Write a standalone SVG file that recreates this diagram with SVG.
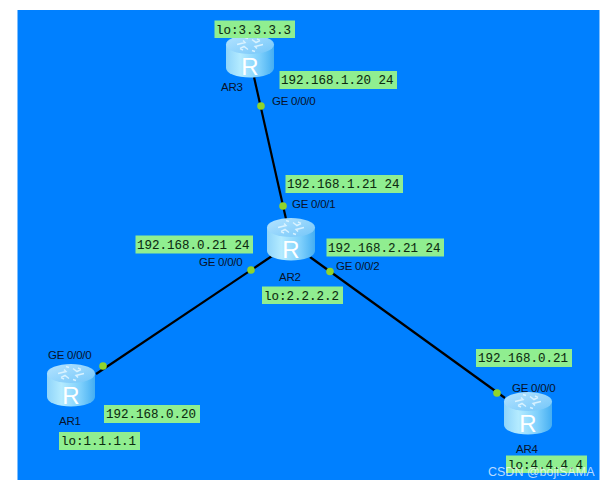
<svg xmlns="http://www.w3.org/2000/svg" width="613" height="490" viewBox="0 0 613 490">
<style>
.lb{fill:#90ee90}
.ip{font:12.5px "Liberation Mono",monospace;fill:#0c2a10;stroke:#0c2a10;stroke-width:.08}
.t{font:11.500px "Liberation Sans",Arial,sans-serif;fill:#08122a;letter-spacing:-.25px}
.c{stroke:#000;stroke-width:2.200;fill:none}
.d{fill:#8fd42c}
.r{font:24px "Liberation Sans",Arial,sans-serif;fill:#fff;text-anchor:middle}
.a{fill:none;stroke:#e4f7ff;stroke-width:1.500;stroke-opacity:.85}
</style>
<defs>
<linearGradient id="body" x1="0" x2="1" y1="0" y2="0">
<stop offset="0" stop-color="#8fd4fa"/><stop offset=".3" stop-color="#b4ebff"/><stop offset=".7" stop-color="#7fd0fc"/><stop offset="1" stop-color="#45aef2"/>
</linearGradient>
<linearGradient id="top" x1="0" x2="1" y1="0" y2="1">
<stop offset="0" stop-color="#b5e4ff"/><stop offset="1" stop-color="#74c6f9"/>
</linearGradient>
<g id="router">
<path d="M-24 9.500V33A24 9.500 0 0 0 24 33V9.500Z" fill="url(#body)"/>
<ellipse cx="0" cy="9.500" rx="24" ry="9.500" fill="url(#top)"/>
<path class="a" d="M-13 9.500L-5 7.500L-7 5.500M13 9.500L5 11.500L7 13.500M-2 14.500L-6 11.500L-10 13.500M-10 13.500L-7 15M2 4.500L6 7.500L10 5.500M10 5.500L7 4M-2 3.500L-5 2.500M2 15.500L5 16.500"/>
<text class="r" x="0" y="40">R</text>
</g>
</defs>
<rect width="613" height="490" fill="#fff"/>
<rect x="17.500" y="10" width="582" height="470" fill="#0080ff"/>
<g id="connectors">
<path class="c" d="M254 77L286 219"/>
<path class="c" d="M272 256L96 374"/>
<path class="c" d="M310 257L505 398"/>
<circle class="d" cx="261" cy="106" r="3.800"/>
<circle class="d" cx="283" cy="206" r="3.800"/>
<circle class="d" cx="251" cy="270" r="3.800"/>
<circle class="d" cx="330" cy="271.500" r="3.800"/>
<circle class="d" cx="103" cy="366" r="3.800"/>
<circle class="d" cx="497" cy="393" r="3.800"/>
</g>
<g id="AR3">
<use href="#router" x="250" y="35"/>
<text class="t" x="221" y="91">AR3</text>
<rect class="lb" x="214.500" y="20.500" width="80.500" height="17.500"/>
<text class="ip" x="216" y="33.500">lo:3.3.3.3</text>
<rect class="lb" x="279.500" y="71" width="117.500" height="18"/>
<text class="ip" x="281" y="84">192.168.1.20 24</text>
<text class="t" x="272" y="105">GE 0/0/0</text>
</g>
<g id="AR2">
<use href="#router" x="291" y="218"/>
<text class="t" x="279" y="280.500">AR2</text>
<rect class="lb" x="285.500" y="175" width="117.500" height="18"/>
<text class="ip" x="287" y="188">192.168.1.21 24</text>
<text class="t" x="292" y="207.500">GE 0/0/1</text>
<rect class="lb" x="135.500" y="235.500" width="117.500" height="18"/>
<text class="ip" x="137" y="248.500">192.168.0.21 24</text>
<text class="t" x="199" y="265.500">GE 0/0/0</text>
<rect class="lb" x="326.500" y="238.500" width="117.500" height="18"/>
<text class="ip" x="328" y="251.500">192.168.2.21 24</text>
<text class="t" x="336" y="269.500">GE 0/0/2</text>
<rect class="lb" x="262" y="286.500" width="81" height="17.500"/>
<text class="ip" x="264" y="299.500">lo:2.2.2.2</text>
</g>
<g id="AR1">
<use href="#router" x="71" y="364"/>
<text class="t" x="59" y="425">AR1</text>
<text class="t" x="48" y="359">GE 0/0/0</text>
<rect class="lb" x="104" y="405" width="96" height="18"/>
<text class="ip" x="106" y="418">192.168.0.20</text>
<rect class="lb" x="59" y="432" width="81" height="18"/>
<text class="ip" x="61" y="445">lo:1.1.1.1</text>
</g>
<g id="AR4">
<use href="#router" x="528" y="392"/>
<text class="t" x="516" y="452.500">AR4</text>
<text class="t" x="512" y="391.500">GE 0/0/0</text>
<rect class="lb" x="476" y="349" width="96" height="18"/>
<text class="ip" x="478" y="362">192.168.0.21</text>
<rect class="lb" x="506" y="455.500" width="81" height="17.500"/>
<text class="ip" x="508" y="468.500">lo:4.4.4.4</text>
</g>
<text x="488" y="476" font-family="Liberation Sans, sans-serif" font-size="12.500" fill="#fff" fill-opacity=".72">CSDN @bojiSAMA</text>
</svg>
